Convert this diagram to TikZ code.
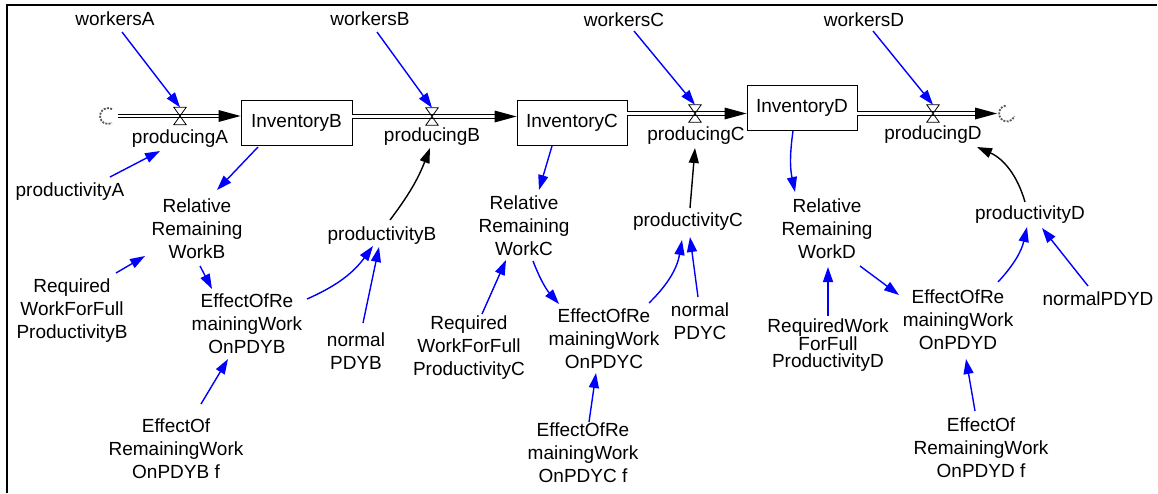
\documentclass[tikz,border=0pt]{standalone}
\usepackage{fontspec}
\setmainfont{Liberation Sans}
\usetikzlibrary{arrows.meta}
\definecolor{vblue}{RGB}{0,0,255}
\begin{document}
\begin{tikzpicture}[x=1pt,y=1pt,
  every node/.style={font=\fontsize{19}{23}\selectfont, inner sep=1pt, align=center},
  stock/.style={draw, line width=0.9pt, minimum height=45pt, inner sep=0pt},
  valve/.style={minimum width=12pt, minimum height=17pt, inner sep=0pt},
  link/.style={draw=vblue, line width=1.4pt, -{Triangle[length=15pt,width=10pt]}},
  blink/.style={draw=black, line width=1.4pt, -{Triangle[length=15pt,width=10pt]}},
  pipe/.style={draw, line width=1pt, double=white, double distance=2.4pt, shorten >=21pt},
  valveline/.style={draw, line width=0.8pt},
  cloudline/.style={draw=black!65, line width=1.8pt, dash pattern=on 2pt off 1.3pt},
]
\useasboundingbox (0,0) rectangle (1158,-493);
\draw[line width=2pt] (7,-493) -- (7,-5) -- (1157,-5);

% clouds
\coordinate (clL) at (118,-116);
\coordinate (clR) at (997,-113.5);
\draw[cloudline] (clL) ++(-6,6.9) arc[start angle=60,end angle=300,radius=8];
\draw[cloudline] (clR) ++(8.6,7.9) arc[start angle=100,end angle=340,radius=8];

% stocks
\node[stock, minimum width=111pt] (invB) at (296.5,-123) {InventoryB};
\node[stock, minimum width=110pt] (invC) at (572,-122.5) {InventoryC};
\node[stock, minimum width=110pt] (invD) at (802,-108) {InventoryD};

% valves
\node[valve] (vA) at (180,-116) {};
\node[valve] (vB) at (432,-116.5) {};
\node[valve] (vC) at (695,-113.5) {};
\node[valve] (vD) at (933,-113.5) {};

% pipes
\draw[pipe] (clL) -- (invB.west |- vA);
\draw[pipe] (invB.east |- vB) -- (invC.west |- vB);
\draw[pipe] (invC.east |- vC) -- (invD.west |- vC);
\draw[pipe] (invD.east |- vD) -- (clR);
\fill (invB.west |- vA) -- ++(-22,6) -- ++(0,-12) -- cycle;
\fill (invC.west |- vB) -- ++(-22,6) -- ++(0,-12) -- cycle;
\fill (invD.west |- vC) -- ++(-22,6) -- ++(0,-12) -- cycle;
\fill (clR) -- ++(-22,6) -- ++(0,-12) -- cycle;
\foreach \v in {vA,vB,vC,vD}
  \draw[valveline] (\v.north west) -- (\v.north east) -- (\v.south west) -- (\v.south east) -- cycle;

% variables
\node (wA) at (115,-19) {workersA};
\node (wB) at (370,-19) {workersB};
\node (wC) at (624,-20) {workersC};
\node (wD) at (864,-20) {workersD};
\node (pA) at (180,-139) {producingA};
\node (pB) at (432,-137) {producingB};
\node (pC) at (696,-136) {producingC};
\node (pD) at (933,-135) {producingD};

\node (prA) at (70,-192) {productivityA};
\node (rrB) at (197,-229) {Relative\\Remaining\\WorkB};
\node (reqB) at (72,-311) {Required\\WorkForFull\\ProductivityB};
\node (effB) at (247,-324) {EffectOfRe\\mainingWork\\OnPDYB};
\node (prB) at (382,-236) {productivityB};
\node (nB) at (356,-351) {normal\\PDYB};
\node (fB) at (176,-449) {EffectOf\\RemainingWork\\OnPDYB f};

\node (rrC) at (524,-226) {Relative\\Remaining\\WorkC};
\node (reqC) at (469,-348) {Required\\WorkForFull\\ProductivityC};
\node (effC) at (604,-339) {EffectOfRe\\mainingWork\\OnPDYC};
\node (nC) at (700,-321) {normal\\PDYC};
\node (prC) at (688,-222) {productivityC};
\node (fC) at (583,-453) {EffectOfRe\\mainingWork\\OnPDYC f};

\node (rrD) at (827,-229) {Relative\\Remaining\\WorkD};
\node[font=\fontsize{19}{17}\selectfont] (reqD) at (828,-345) {RequiredWork\\ForFull\\ProductivityD};
\node (effD) at (958,-320) {EffectOfRe\\mainingWork\\OnPDYD};
\node (prD) at (1030,-215) {productivityD};
\node (nD) at (1098,-299) {normalPDYD};
\node (fD) at (981,-448) {EffectOf\\RemainingWork\\OnPDYD f};

% links
\draw[link] ([shift={(7,-13)}]wA.center) -- (vA.north);
\draw[link] ([shift={(7,-13)}]wB.center) -- (vB.north);
\draw[link] ([shift={(10,-11)}]wC.center) -- (vC.north);
\draw[link] ([shift={(9,-11)}]wD.center) -- (vD.north);

\draw[link] ([shift={(40,15)}]prA.center) -- ([shift={(-20,-12)}]pA.center);
\draw[link] ([shift={(-38.5,-24)}]invB.center) -- ([shift={(20,39)}]rrB.center);
\draw[link] ([shift={(44,38)}]reqB.center) -- ([shift={(-52,-27)}]rrB.center);
\draw[link] ([shift={(3,-37)}]rrB.center) -- ([shift={(-35,35)}]effB.center);
\draw[link] ([shift={(60,25)}]effB.center) to[bend right=15] ([shift={(-9,-10)}]prB.center);
\draw[link] ([shift={(7,28)}]nB.center) -- ([shift={(-3,-11)}]prB.center);
\draw[blink] ([shift={(8,16)}]prB.center) to[bend right=8] ([shift={(-2,-11)}]pB.center);
\draw[link] ([shift={(25,45)}]fB.center) -- ([shift={(-19,-35)}]effB.center);

\draw[link] ([shift={(-20,-23.5)}]invC.center) -- ([shift={(15,36)}]rrC.center);
\draw[link] ([shift={(13,34)}]reqC.center) -- ([shift={(-18,-34)}]rrC.center);
\draw[link] ([shift={(9,-35)}]rrC.center) to[bend right=10] ([shift={(-45,35)}]effC.center);
\draw[link] ([shift={(45,36)}]effC.center) to[bend right=18] ([shift={(-6,-18)}]prC.center);
\draw[link] ([shift={(-2,24)}]nC.center) -- ([shift={(2,-15)}]prC.center);
\draw[blink] ([shift={(2,14)}]prC.center) -- ([shift={(-1,-12)}]pC.center);
\draw[link] ([shift={(6,31)}]fC.center) -- ([shift={(-8,-34)}]effC.center);

\draw[link] ([shift={(-9,-23)}]invD.center) to[bend right=10] ([shift={(-32,37)}]rrD.center);
\draw[link] ([shift={(0,29)}]reqD.center) -- ([shift={(1,-38)}]rrD.center);
\draw[link] ([shift={(33,-37)}]rrD.center) -- ([shift={(-59,25)}]effD.center);
\draw[link] ([shift={(40,38)}]effD.center) to[bend right=15] ([shift={(-3,-12)}]prD.center);
\draw[link] ([shift={(-10,13)}]nD.center) -- ([shift={(12,-13)}]prD.center);
\draw[blink] ([shift={(-5,13)}]prD.center) to[bend right=25] ([shift={(44,-12)}]pD.center);
\draw[link] ([shift={(-6,37)}]fD.center) -- ([shift={(8,-39)}]effD.center);
\end{tikzpicture}
\end{document}
